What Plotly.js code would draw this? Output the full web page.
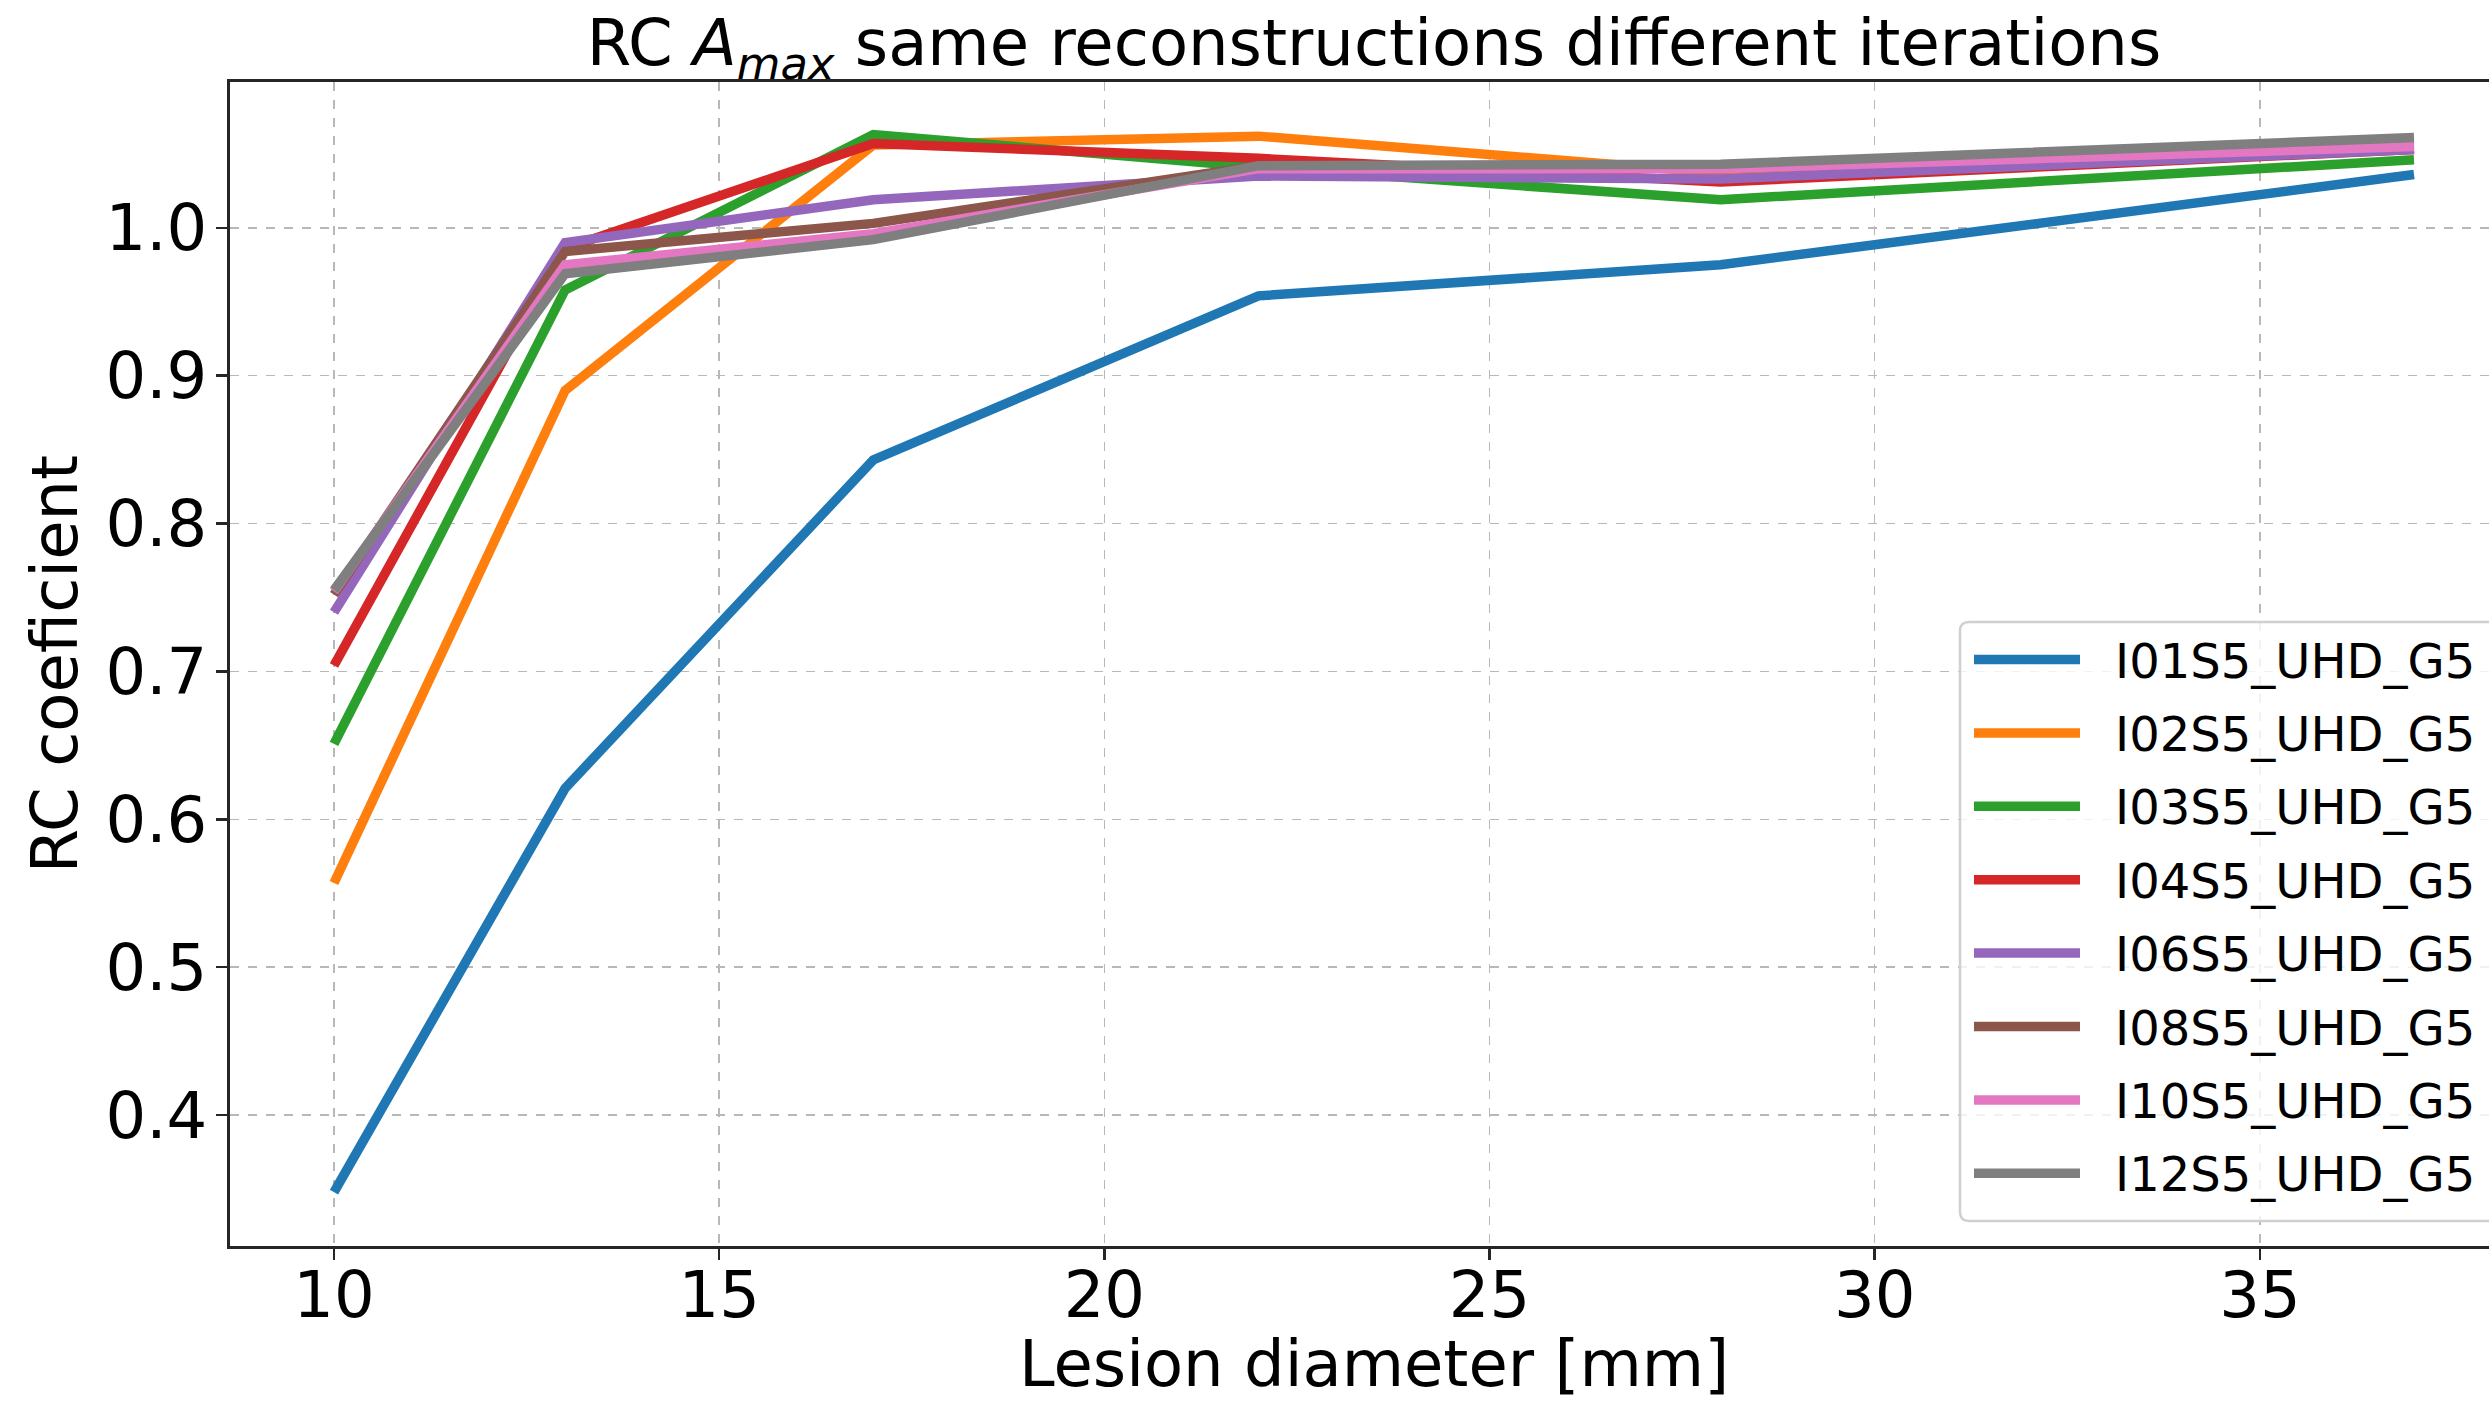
<!DOCTYPE html>
<html>
<head>
<meta charset="utf-8">
<script src="https://cdn.plot.ly/plotly-3.0.1.min.js"></script>
<style>
html,body{margin:0;padding:0;overflow:hidden;background:#fff;}
#chart{width:2530px;height:1401px;}
</style>
</head>
<body>
<div id="chart"></div>
<script>
// ---- data ----
const diameters = [10, 13, 17, 22, 28, 37];
const seriesNames = ["I01S5_UHD_G5","I02S5_UHD_G5","I03S5_UHD_G5","I04S5_UHD_G5","I06S5_UHD_G5","I08S5_UHD_G5","I10S5_UHD_G5","I12S5_UHD_G5"];
const I01 = [0.348, 0.621, 0.843, 0.954, 0.975, 1.036];
const I02 = [0.557, 0.890, 1.056, 1.062, 1.037, 1.054];
const I03 = [0.651, 0.958, 1.063, 1.041, 1.019, 1.046];
const I04 = [0.704, 0.986, 1.057, 1.047, 1.031, 1.053];
const I06 = [0.740, 0.990, 1.019, 1.035, 1.033, 1.053];
const I08 = [0.752, 0.984, 1.003, 1.042, 1.040, 1.057];
const I10 = [0.754, 0.975, 0.996, 1.040, 1.040, 1.055];
const I12 = [0.755, 0.969, 0.992, 1.042, 1.043, 1.061];
const seriesValues = [I01, I02, I03, I04, I06, I08, I10, I12];
const colors = ["#1f77b4","#ff7f0e","#2ca02c","#d62728","#9467bd","#8c564b","#e377c2","#7f7f7f"];
const xTickVals = [10, 15, 20, 25, 30, 35];
const yTickVals = [0.4, 0.5, 0.6, 0.7, 0.8, 0.9, 1.0];

const FONT = "DejaVu Sans, Liberation Sans, sans-serif";
const LW = 9.5;

const traces = seriesNames.map((name, i) => ({
  type: "scatter", mode: "lines", name: name,
  x: diameters, y: seriesValues[i],
  line: {color: colors[i], width: LW},
  showlegend: false, hoverinfo: "skip"
}));

// custom matplotlib-like legend (layout in paper coords)
const plotL = 230, plotR = 2518, plotT = 82, plotB = 1246;
const pw = plotR - plotL, ph = plotB - plotT;
const px2x = p => (p - plotL) / pw;
const py2y = p => (plotB - p) / ph;

const shapes = [];
const annotations = [];
// legend box with rounded corners
(function(){
  const x0 = px2x(1960), x1 = px2x(2512), y0 = py2y(1221), y1 = py2y(622);
  const rx = 9 / pw, ry = 9 / ph;
  const path = `M ${x0+rx},${y1} L ${x1-rx},${y1} Q ${x1},${y1} ${x1},${y1-ry} L ${x1},${y0+ry} Q ${x1},${y0} ${x1-rx},${y0} L ${x0+rx},${y0} Q ${x0},${y0} ${x0},${y0+ry} L ${x0},${y1-ry} Q ${x0},${y1} ${x0+rx},${y1} Z`;
  shapes.push({type:"path", xref:"paper", yref:"paper", path:path,
    fillcolor:"rgba(255,255,255,0.8)", line:{color:"#d0d0d0", width:2.5}, layer:"above"});
})();
seriesNames.forEach((name, i) => {
  const cy = 659.5 + i * 73.4;
  shapes.push({type:"line", xref:"paper", yref:"paper",
    x0: px2x(1974), x1: px2x(2080), y0: py2y(cy), y1: py2y(cy),
    line:{color: colors[i], width: LW}, layer:"above"});
  annotations.push({xref:"paper", yref:"paper", x: px2x(2113), y: py2y(cy + 1),
    xanchor:"left", yanchor:"middle", showarrow:false, text: name,
    font:{family: FONT, size: 48, color:"#000"}});
});

const layout = {
  width: 2530, height: 1401,
  margin: {l: plotL, r: 2530 - plotR, t: plotT, b: 1401 - plotB, pad: 0},
  paper_bgcolor: "#fff", plot_bgcolor: "#fff",
  font: {family: FONT, color: "#000"},
  title: {
    text: "RC <i>A</i><sub><i>max</i></sub> same reconstructions different iterations",
    font: {family: FONT, size: 64, color: "#000"},
    x: 0.5, xref: "paper", y: 1 - 43/1401, yref: "container", yanchor: "middle"
  },
  xaxis: {
    range: [8.65, 38.35],
    tickvals: xTickVals, ticktext: xTickVals.map(String),
    ticks: "outside", ticklen: 11, tickwidth: 2.5, tickcolor: "#262626",
    showline: true, mirror: true, linecolor: "#262626", linewidth: 3,
    showgrid: true, gridcolor: "#b8b8b8", gridwidth: 1.5, griddash: "dash",
    zeroline: false,
    tickfont: {family: FONT, size: 64, color: "#000"},
    ticklabelstandoff: -20,
    title: {text: "Lesion diameter [mm]", font: {family: FONT, size: 64, color: "#000"}, standoff: 14},
    automargin: false
  },
  yaxis: {
    range: [0.3115, 1.0986],
    tickvals: yTickVals, ticktext: yTickVals.map(v => v.toFixed(1)),
    ticks: "outside", ticklen: 11, tickwidth: 2.5, tickcolor: "#262626",
    showline: true, mirror: true, linecolor: "#262626", linewidth: 3,
    showgrid: true, gridcolor: "#b8b8b8", gridwidth: 1.5, griddash: "dash",
    zeroline: false,
    tickfont: {family: FONT, size: 64, color: "#000"},
    ticklabelstandoff: -4,
    title: {text: "RC coeficient", font: {family: FONT, size: 64, color: "#000"}, standoff: 8},
    automargin: false
  },
  shapes: shapes,
  annotations: annotations,
  showlegend: false
};

Plotly.newPlot("chart", traces, layout, {staticPlot: true, displayModeBar: false});
</script>
</body>
</html>
